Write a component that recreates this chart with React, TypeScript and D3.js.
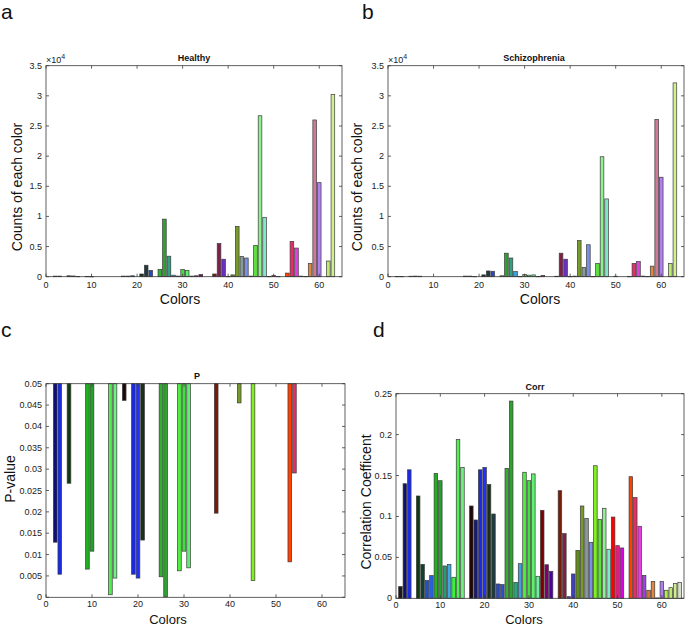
import React from "react";
import * as d3 from "d3";

// ---------- DATA ----------
const colorIndex: number[] = d3.range(1, 65);

const palette: string[] = [
  "#1a1a1a", "#10106e", "#1a2ae6", "#2040ff", "#0f3a10", "#104030", "#2050c8", "#2a60e0",
  "#20b020", "#20a428", "#20a070", "#40a8e0", "#40f040", "#50f050", "#70f080", "#80f0c0",
  "#200808", "#1a1a70", "#1a2ae0", "#2030ff", "#1a3018", "#203a40", "#2848c0", "#3050d0",
  "#30b030", "#30a030", "#30a080", "#40a0e0", "#50f040", "#40e040", "#60f070", "#70f0a0",
  "#800000", "#800070", "#5000a0", "#5010e0", "#7a1a08", "#80204a", "#6a30c0", "#4040c0",
  "#608a20", "#789a2a", "#8a9a9a", "#7890e8", "#80f020", "#60e040", "#90f090", "#80e8c8",
  "#ff0000", "#e02080", "#e000e0", "#c000ff", "#ff4000", "#e0306a", "#e040e0", "#a040e0",
  "#e07030", "#e08840", "#d07898", "#b080f0", "#b0f040", "#c0e870", "#d0f090", "#d8e0d0",
];

// counts (x10^4), index 1..64
const healthyCounts: number[] = [
  0, 0.01, 0.01, 0, 0.015, 0.012, 0.005, 0,
  0.005, 0.003, 0, 0, 0, 0, 0, 0,
  0.01, 0.01, 0.015, 0, 0.045, 0.19, 0.105, 0,
  0.12, 0.955, 0.34, 0.025, 0.01, 0.12, 0.105, 0.01,
  0.015, 0.035, 0, 0, 0.045, 0.55, 0.29, 0.005,
  0.03, 0.835, 0.335, 0.31, 0.01, 0.52, 2.67, 0.985,
  0.005, 0.02, 0.005, 0, 0.06, 0.585, 0.475, 0.01,
  0.005, 0.22, 2.6, 1.56, 0, 0.26, 3.02, 0,
];

const schizoCounts: number[] = [
  0, 0.005, 0.005, 0, 0.008, 0.01, 0.008, 0,
  0, 0, 0, 0, 0, 0, 0, 0,
  0.01, 0.01, 0.005, 0, 0.03, 0.095, 0.09, 0,
  0.015, 0.39, 0.31, 0.085, 0.005, 0.035, 0.025, 0.03,
  0.005, 0.02, 0, 0, 0.008, 0.39, 0.29, 0.005,
  0.01, 0.6, 0.155, 0.53, 0.005, 0.22, 1.99, 1.29,
  0, 0.008, 0, 0, 0.005, 0.22, 0.25, 0.01,
  0.005, 0.175, 2.61, 1.65, 0, 0.22, 3.215, 0,
];

// p-values (null = not significant, not drawn)
const pValues: (number | null)[] = [
  null, 0.0129, 0.0054, null, 0.0267, null, null, null,
  0.0066, 0.0108, null, null, null, 0.0006, 0.0045, null,
  0.0461, null, 0.0054, 0.0045, 0.0134, null, null, null,
  0.0048, 0.0001, null, null, 0.0062, 0.0108, 0.0069, null,
  null, null, null, null, 0.0197, null, null, null,
  null, 0.0455, null, null, 0.0039, null, null, null,
  null, null, null, null, 0.0083, 0.0291, null, null,
  null, null, null, null, null, null, null, null,
];

const corrValues: number[] = [
  0.0143, 0.14, 0.157, 0, 0.125, 0.0415, 0.0216, 0.0277,
  0.1527, 0.1437, 0.0395, 0.0415, 0.0257, 0.194, 0.16, 0,
  0.1128, 0.0957, 0.157, 0.16, 0.139, 0.103, 0.0175, 0.0167,
  0.1588, 0.241, 0.0195, 0.0423, 0.154, 0.1437, 0.152, 0.0269,
  0.1075, 0.041, 0.033, 0, 0.1315, 0.079, 0.002, 0.0297,
  0.0586, 0.1128, 0.0977, 0.0684, 0.162, 0.0965, 0.11, 0.0599,
  0.0993, 0.0643, 0.0615, 0, 0.1486, 0.123, 0.088, 0.028,
  0.0098, 0.0204, 0.0005, 0.0204, 0.0098, 0.013, 0.018, 0.0195,
];

const xTicks: number[] = [0, 10, 20, 30, 40, 50, 60];
const countTicks: number[] = [0, 0.5, 1, 1.5, 2, 2.5, 3, 3.5];
const pTicks: number[] = [0, 0.005, 0.01, 0.015, 0.02, 0.025, 0.03, 0.035, 0.04, 0.045, 0.05];
const corrTicks: number[] = [0, 0.05, 0.1, 0.15, 0.2, 0.25];

// ---------- RENDERING ----------
const FONT = "'Liberation Sans', Arial, Helvetica, sans-serif";
const AXIS = "#3a3a3a";
const EDGE = "#3c3c3c";

type Bar = { i: number; v0: number; v1: number };

function Panel(props: {
  x0: number; x1: number; yBottom: number; yTop: number;
  yMax: number; yTicks: number[]; bars: Bar[]; title: string;
  titleX: number; titleY: number; yLabel: string; yLabelX: number; yLabelY: number;
  xLabelX: number; xLabelY: number; xLabelSize: number; tickOff: number; exponent?: boolean;
}) {
  const x = d3.scaleLinear().domain([0, 65]).range([props.x0, props.x1]);
  const y = d3.scaleLinear().domain([0, props.yMax]).range([props.yBottom, props.yTop]);
  const bw = x(0.8) - x(0);
  const tl = 3;
  const fmt = (v: number) => String(+v.toFixed(4));
  return (
    <g>
      {props.bars.map((b) => {
        const ya = y(Math.max(b.v0, b.v1));
        const yb = y(Math.min(b.v0, b.v1));
        return (
          <rect key={b.i} x={x(b.i) - bw / 2} y={ya} width={bw} height={Math.max(yb - ya, 0.4)}
            fill={palette[b.i - 1]} stroke={EDGE} strokeWidth={0.7} />
        );
      })}
      <rect x={props.x0} y={props.yTop} width={props.x1 - props.x0} height={props.yBottom - props.yTop}
        fill="none" stroke={AXIS} strokeWidth={0.8} />
      {xTicks.map((t) => (
        <g key={"xt" + t}>
          <line x1={x(t)} x2={x(t)} y1={props.yBottom} y2={props.yBottom - tl} stroke={AXIS} strokeWidth={0.8} />
          <line x1={x(t)} x2={x(t)} y1={props.yTop} y2={props.yTop + tl} stroke={AXIS} strokeWidth={0.8} />
          <text x={x(t)} y={props.yBottom + props.tickOff} fontSize={9} textAnchor="middle" fontFamily={FONT} fill="#222">{t}</text>
        </g>
      ))}
      {props.yTicks.map((t) => (
        <g key={"yt" + t}>
          <line x1={props.x0} x2={props.x0 + tl} y1={y(t)} y2={y(t)} stroke={AXIS} strokeWidth={0.8} />
          <line x1={props.x1} x2={props.x1 - tl} y1={y(t)} y2={y(t)} stroke={AXIS} strokeWidth={0.8} />
          <text x={props.x0 - 4} y={y(t) + 3} fontSize={9} textAnchor="end" fontFamily={FONT} fill="#222">{fmt(t)}</text>
        </g>
      ))}
      {props.exponent && (
        <text x={props.x0} y={props.yTop - 3} fontSize={9} fontFamily={FONT} fill="#222">
          ×10<tspan dy={-4} fontSize={7}>4</tspan>
        </text>
      )}
      <text x={props.titleX} y={props.titleY} fontSize={9} fontWeight="bold" textAnchor="middle" fontFamily={FONT} fill="#111">{props.title}</text>
      <text x={props.xLabelX} y={props.xLabelY} fontSize={props.xLabelSize} textAnchor="middle" fontFamily={FONT} fill="#111">Colors</text>
      <text transform={`translate(${props.yLabelX},${props.yLabelY}) rotate(-90)`} fontSize={14} textAnchor="middle" fontFamily={FONT} fill="#111">{props.yLabel}</text>
    </g>
  );
}

export default function App() {
  const barsA: Bar[] = colorIndex.filter((i) => healthyCounts[i - 1] > 0).map((i) => ({ i, v0: 0, v1: healthyCounts[i - 1] }));
  const barsB: Bar[] = colorIndex.filter((i) => schizoCounts[i - 1] > 0).map((i) => ({ i, v0: 0, v1: schizoCounts[i - 1] }));
  const barsC: Bar[] = colorIndex.filter((i) => pValues[i - 1] !== null).map((i) => ({ i, v0: 0.05, v1: pValues[i - 1] as number }));
  const barsD: Bar[] = colorIndex.filter((i) => corrValues[i - 1] > 0).map((i) => ({ i, v0: 0, v1: corrValues[i - 1] }));

  return (
    <svg width={685} height={625} style={{ position: "absolute", left: 0, top: 0, background: "#fff" }}>
      <rect width={685} height={625} fill="#fff" />
      <Panel x0={46} x1={342} yBottom={276.7} yTop={65.7} yMax={3.5} yTicks={countTicks} bars={barsA}
        title="Healthy" titleX={194} titleY={61} yLabel="Counts of each color" yLabelX={22} yLabelY={187}
        xLabelX={180} xLabelY={304} xLabelSize={14} tickOff={11.5} exponent />
      <Panel x0={388} x1={684} yBottom={276.7} yTop={65.7} yMax={3.5} yTicks={countTicks} bars={barsB}
        title="Schizophrenia" titleX={534} titleY={61} yLabel="Counts of each color" yLabelX={362} yLabelY={187}
        xLabelX={540} xLabelY={304} xLabelSize={14} tickOff={11.5} exponent />
      <Panel x0={46} x1={345} yBottom={597.3} yTop={383.7} yMax={0.05} yTicks={pTicks} bars={barsC}
        title="P" titleX={197} titleY={379} yLabel="P-value" yLabelX={15} yLabelY={479}
        xLabelX={168} xLabelY={623.5} xLabelSize={13} tickOff={10} />
      <Panel x0={396} x1={684} yBottom={598.3} yTop={393.7} yMax={0.25} yTicks={corrTicks} bars={barsD}
        title="Corr" titleX={535} titleY={390} yLabel="Correlation Coefficent" yLabelX={371} yLabelY={502}
        xLabelX={524} xLabelY={623.5} xLabelSize={13} tickOff={9.5} />
      <text x={1} y={19} fontSize={21} fontFamily={FONT} fill="#111">a</text>
      <text x={362} y={19} fontSize={21} fontFamily={FONT} fill="#111">b</text>
      <text x={1} y={337} fontSize={21} fontFamily={FONT} fill="#111">c</text>
      <text x={373} y={337} fontSize={21} fontFamily={FONT} fill="#111">d</text>
    </svg>
  );
}
